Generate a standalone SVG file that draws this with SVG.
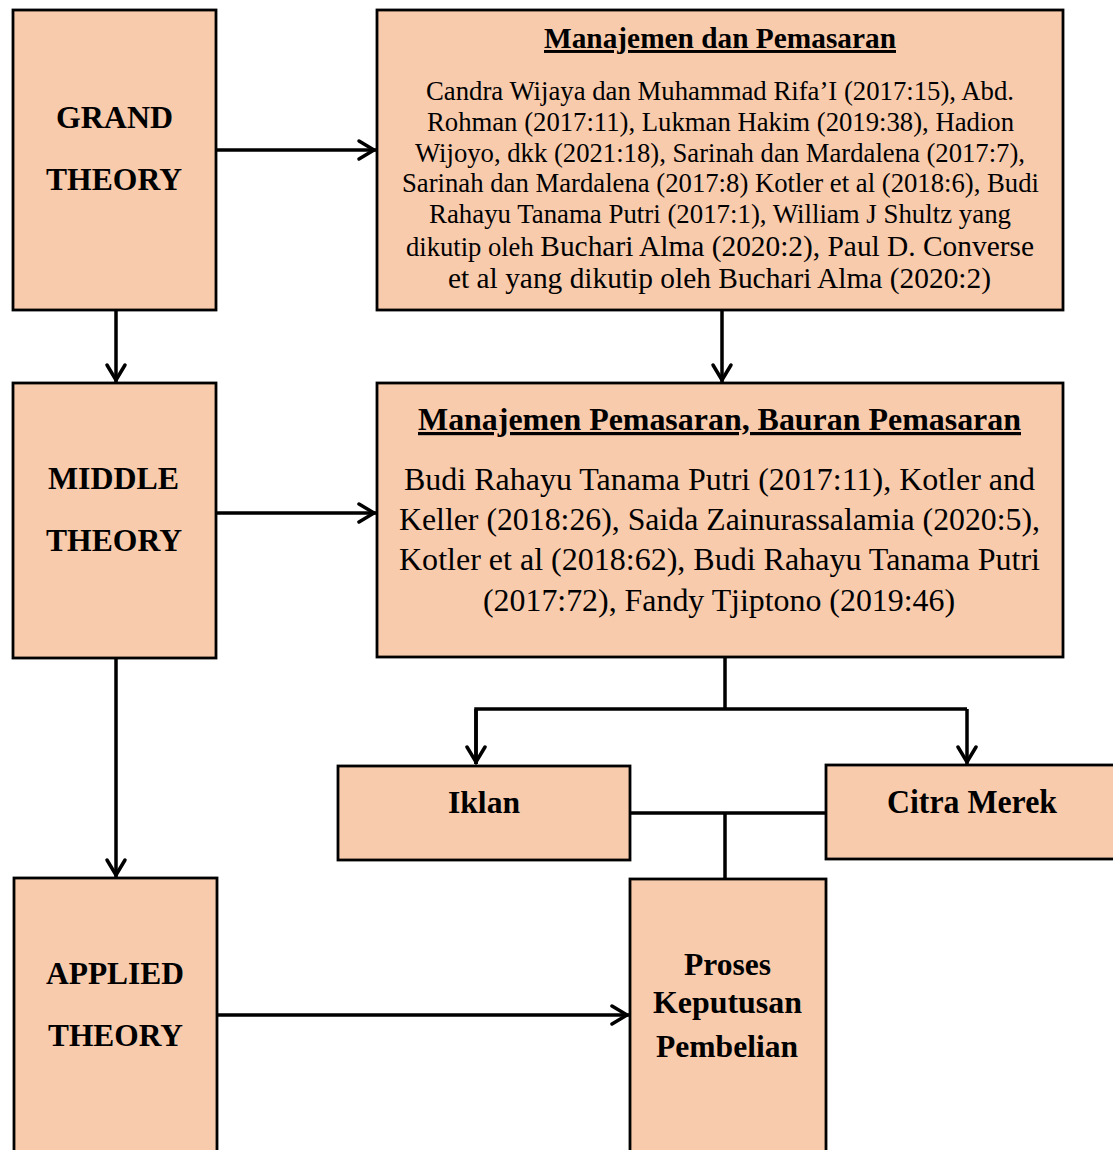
<svg xmlns="http://www.w3.org/2000/svg" width="1113" height="1150" viewBox="0 0 1113 1150">
<defs>
<style>
.box{fill:#F8CBAD;stroke:#000;stroke-width:2.8}
.con{fill:none;stroke:#000;stroke-width:3.5}
.lbl{font-family:"Liberation Serif","Times New Roman",serif;font-weight:bold;font-size:32px;fill:#000}
.body{font-family:"Liberation Serif","Times New Roman",serif;font-size:32px;fill:#000}
.ul{text-decoration:underline}
</style>
<marker id="arr" markerUnits="userSpaceOnUse" viewBox="-22 -13 24 26" refX="0" refY="0" markerWidth="24" markerHeight="26" orient="auto" overflow="visible">
<path d="M-17,-9 L-2,0 L-17,9" fill="none" stroke="#000" stroke-width="3.5" stroke-linecap="round" stroke-linejoin="miter"/>
</marker>
</defs>
<rect width="1113" height="1150" fill="#fff"/>

<g id="connectors">
<line class="con" x1="216" y1="150" x2="376" y2="150" marker-end="url(#arr)"/>
<line class="con" x1="116" y1="310" x2="116" y2="382" marker-end="url(#arr)"/>
<line class="con" x1="722" y1="310" x2="722" y2="382" marker-end="url(#arr)"/>
<line class="con" x1="216" y1="513" x2="376" y2="513" marker-end="url(#arr)"/>
<line class="con" x1="116" y1="658" x2="116" y2="877" marker-end="url(#arr)"/>
<line class="con" x1="725" y1="657" x2="725" y2="709"/>
<polyline class="con" points="476,764 476,709 967,709"/>
<line class="con" x1="476" y1="709" x2="476" y2="764" marker-end="url(#arr)"/>
<line class="con" x1="967" y1="709" x2="967" y2="764" marker-end="url(#arr)"/>
<line class="con" x1="630" y1="813" x2="826" y2="813"/>
<line class="con" x1="725" y1="813" x2="725" y2="879"/>
<line class="con" x1="217" y1="1015" x2="629" y2="1015" marker-end="url(#arr)"/>
</g>

<g id="grand">
<rect class="box" x="13" y="10" width="203" height="300"/>
<text class="lbl" x="56" y="128" textLength="117" lengthAdjust="spacingAndGlyphs">GRAND</text>
<text class="lbl" x="46" y="190" textLength="136" lengthAdjust="spacingAndGlyphs">THEORY</text>
</g>

<g id="manajemen-dan-pemasaran">
<rect class="box" x="377" y="10" width="686" height="300"/>
<text class="lbl ul" x="544" y="48" style="font-size:29.5px" textLength="352" lengthAdjust="spacingAndGlyphs">Manajemen dan Pemasaran</text>
<text class="body" x="426" y="100" style="font-size:26.5px" textLength="588" lengthAdjust="spacingAndGlyphs">Candra Wijaya dan Muhammad Rifa’I (2017:15), Abd.</text>
<text class="body" x="427" y="131" style="font-size:26.5px" textLength="587" lengthAdjust="spacingAndGlyphs">Rohman (2017:11), Lukman Hakim (2019:38), Hadion</text>
<text class="body" x="415" y="162" style="font-size:26.5px" textLength="610" lengthAdjust="spacingAndGlyphs">Wijoyo, dkk (2021:18), Sarinah dan Mardalena (2017:7),</text>
<text class="body" x="402" y="192" style="font-size:26.5px" textLength="637" lengthAdjust="spacingAndGlyphs">Sarinah dan Mardalena (2017:8) Kotler et al (2018:6), Budi</text>
<text class="body" x="429" y="223" style="font-size:26.5px" textLength="582" lengthAdjust="spacingAndGlyphs">Rahayu Tanama Putri (2017:1), William J Shultz yang</text>
<text class="body" x="406" y="256" textLength="628" lengthAdjust="spacingAndGlyphs"><tspan style="font-size:26.5px">dikutip oleh </tspan><tspan style="font-size:29.3px">Buchari Alma (2020:2), Paul D. Converse</tspan></text>
<text class="body" x="448" y="288" style="font-size:29.3px" textLength="543" lengthAdjust="spacingAndGlyphs">et al yang dikutip oleh Buchari Alma (2020:2)</text>
</g>

<g id="middle">
<rect class="box" x="13" y="383" width="203" height="275"/>
<text class="lbl" x="48" y="489" textLength="131" lengthAdjust="spacingAndGlyphs">MIDDLE</text>
<text class="lbl" x="46" y="551" textLength="136" lengthAdjust="spacingAndGlyphs">THEORY</text>
</g>

<g id="manajemen-pemasaran">
<rect class="box" x="377" y="383" width="686" height="274"/>
<text class="lbl ul" x="418" y="430" textLength="603" lengthAdjust="spacingAndGlyphs">Manajemen Pemasaran, Bauran Pemasaran</text>
<text class="body" x="404" y="490" textLength="631" lengthAdjust="spacingAndGlyphs">Budi Rahayu Tanama Putri (2017:11), Kotler and</text>
<text class="body" x="399" y="530" textLength="641" lengthAdjust="spacingAndGlyphs">Keller (2018:26), Saida Zainurassalamia (2020:5),</text>
<text class="body" x="399" y="570" textLength="641" lengthAdjust="spacingAndGlyphs">Kotler et al (2018:62), Budi Rahayu Tanama Putri</text>
<text class="body" x="483" y="611" textLength="472" lengthAdjust="spacingAndGlyphs">(2017:72), Fandy Tjiptono (2019:46)</text>
</g>

<g id="iklan">
<rect class="box" x="338" y="766" width="292" height="94"/>
<text class="lbl" x="448" y="813" textLength="72" lengthAdjust="spacingAndGlyphs">Iklan</text>
</g>

<g id="citra-merek">
<rect class="box" x="826" y="765" width="300" height="94"/>
<text class="lbl" x="887" y="813" style="font-size:33px" textLength="170" lengthAdjust="spacingAndGlyphs">Citra Merek</text>
</g>

<g id="applied">
<rect class="box" x="14" y="878" width="203" height="290"/>
<text class="lbl" x="46" y="984" textLength="138" lengthAdjust="spacingAndGlyphs">APPLIED</text>
<text class="lbl" x="48" y="1046" textLength="135" lengthAdjust="spacingAndGlyphs">THEORY</text>
</g>

<g id="proses-keputusan-pembelian">
<rect class="box" x="630" y="879" width="196" height="290"/>
<text class="lbl" x="684" y="975" textLength="87" lengthAdjust="spacingAndGlyphs">Proses</text>
<text class="lbl" x="653" y="1013" textLength="149" lengthAdjust="spacingAndGlyphs">Keputusan</text>
<text class="lbl" x="656" y="1057" textLength="142" lengthAdjust="spacingAndGlyphs">Pembelian</text>
</g>
</svg>
